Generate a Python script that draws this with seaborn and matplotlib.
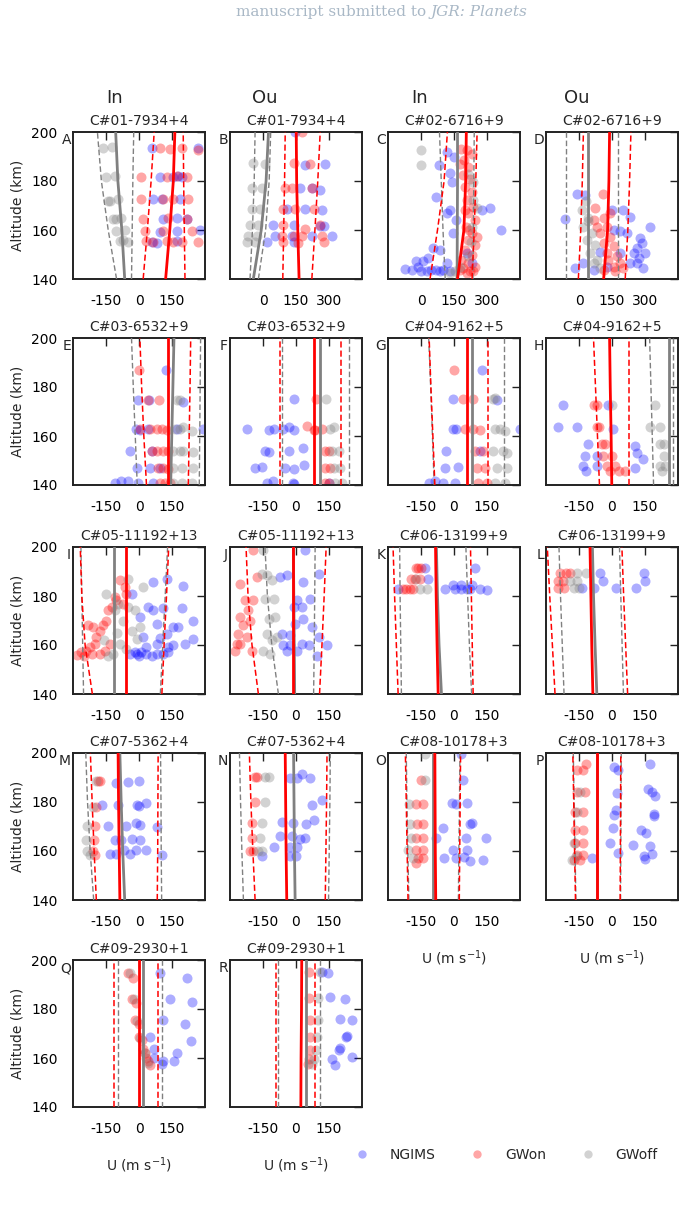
import numpy as np
import pandas as pd
import matplotlib
matplotlib.use("Agg")
import matplotlib.pyplot as plt
import seaborn as sns
from matplotlib.lines import Line2D

# ---------------- data ----------------
PANELS = list("ABCDEFGHIJKLMNOPQR")
TITLES = ["C#01-7934+4", "C#01-7934+4", "C#02-6716+9", "C#02-6716+9",
          "C#03-6532+9", "C#03-6532+9", "C#04-9162+5", "C#04-9162+5",
          "C#05-11192+13", "C#05-11192+13", "C#06-13199+9", "C#06-13199+9",
          "C#07-5362+4", "C#07-5362+4", "C#08-10178+3", "C#08-10178+3",
          "C#09-2930+1", "C#09-2930+1"]
HEADERS = ["In", "Ou", "In", "Ou"]
ALT_FIT = [140, 160, 180, 200]
SERIES = ["NGIMS", "GWon", "GWoff"]

# fitted profiles (u at ALT_FIT): GWon mean / lower / upper, GWoff mean / lower / upper
FIT = {
 "A": dict(on=[121,140,156,163], on_lo=[19,38,55,69], on_hi=[209,206,203,201],
           off=[-65,-78,-96,-106], off_lo=[-102,-140,-171,-189], off_hi=[-34,-31,-28,-24]),
 "B": dict(on=[164,158,153,151], on_lo=[90,94,98,101], on_hi=[222,236,249,260],
           off=[-44,-8,14,25], off_lo=[-59,-48,-40,-36], off_hi=[-21,12,28,35]),
 "C": dict(on=[166,195,203,206], on_lo=[41,75,105,120], on_hi=[232,242,249,255],
           off=[164,165,166,166], off_lo=[110,100,92,84], off_hi=[236,238,240,242]),
 "D": dict(on=[112,130,136,139], on_lo=[-3,8,15,20], on_hi=[210,222,230,236],
           off=[40,40,40,40], off_lo=[-60,-60,-60,-60], off_hi=[176,176,176,176]),
 "E": dict(on=[133,133,133,133], on_lo=[34,22,12,4], on_hi=[224,228,232,235],
           off=[144,149,154,159], off_lo=[-8,-17,-26,-34], off_hi=[274,276,278,280]),
 "F": dict(on=[80,80,80,80], on_lo=[-75,-75,-75,-75], on_hi=[204,204,204,204],
           off=[110,110,110,110], off_lo=[-65,-65,-65,-65], off_hi=[239,239,239,239]),
 "G": dict(on=[60,60,60,60], on_lo=[-87,-96,-105,-113], on_hi=[156,156,156,156],
           off=[80,80,80,80], off_lo=[-90,-98,-106,-115], off_hi=[227,227,227,227]),
 "H": dict(on=[-1,-4,-8,-11], on_lo=[-57,-66,-75,-84], on_hi=[75,75,75,75],
           off=[257,257,257,257], off_lo=[189,183,177,171], off_hi=[276,276,276,276]),
 "I": dict(on=[-59,-59,-59,-59], on_lo=[-212,-245,-260,-267], on_hi=[104,114,125,135],
           off=[-114,-114,-114,-114], off_lo=[-252,-256,-260,-264], off_hi=[97,108,119,130]),
 "J": dict(on=[-15,-15,-15,-15], on_lo=[-171,-200,-218,-227], on_hi=[107,118,128,137],
           off=[-6,-8,-10,-12], off_lo=[-80,-110,-130,-141], off_hi=[80,83,85,87]),
 "K": dict(on=[-72,-77,-81,-84], on_lo=[-254,-262,-270,-277], on_hi=[87,83,79,75],
           off=[-57,-68,-75,-80], off_lo=[-239,-242,-245,-247], off_hi=[80,70,62,54]),
 "L": dict(on=[-87,-92,-96,-100], on_lo=[-259,-271,-283,-294], on_hi=[71,62,53,45],
           off=[-69,-77,-84,-89], off_lo=[-218,-226,-234,-241], off_hi=[52,46,40,34]),
 "M": dict(on=[-87,-90,-93,-95], on_lo=[-194,-204,-213,-221], on_hi=[83,85,86,87],
           off=[-65,-74,-81,-87], off_lo=[-206,-222,-234,-242], off_hi=[103,101,100,98]),
 "N": dict(on=[-42,-45,-47,-49], on_lo=[-186,-196,-205,-212], on_hi=[133,136,139,141],
           off=[-4,-7,-9,-11], off_lo=[-239,-246,-252,-257], off_hi=[148,151,154,156]),
 "O": dict(on=[-83,-85,-86,-87], on_lo=[-209,-213,-217,-221], on_hi=[24,26,28,30],
           off=[-95,-95,-95,-95], off_lo=[-205,-210,-214,-217], off_hi=[20,22,25,27]),
 "P": dict(on=[-69,-69,-69,-69], on_lo=[-166,-170,-174,-178], on_hi=[37,38,39,40],
           off=[-70,-70,-70,-70], off_lo=[-164,-168,-172,-176], off_hi=[39,40,41,42]),
 "Q": dict(on=[-2,-2,-2,-2], on_lo=[-113,-113,-113,-113], on_hi=[85,85,85,85],
           off=[18,18,18,18], off_lo=[-97,-97,-97,-97], off_hi=[105,105,105,105]),
 "R": dict(on=[22,23,25,26], on_lo=[-93,-93,-93,-93], on_hi=[87,87,87,87],
           off=[46,46,46,46], off_lo=[-83,-83,-83,-83], off_hi=[107,107,107,107]),
}

# observations: (u [m/s], altitude [km])
NGIMS_A = [(57,193.5),(270,193.5),(95,181.5),(156,181.5),(178,182),(194,181.5),(65,172.5),(103,172.5),
           (186,172.5),(110,164.5),(171,165),(216,164.5),(95,159),(171,159.5),(277,160),(57,155),(80,154.5),(171,155.5)]
GWON_A = [(95,193.5),(140,193),(194,193.5),(270,192.5),(11,181.5),(125,181.5),(171,182),(216,181.5),
          (11,172.5),(110,172.5),(156,172.5),(224,172.5),(19,164.5),(133,165),(216,164.5),(27,159.5),
          (110,159.5),(239,159.5),(34,155.5),(65,155),(125,155.5),(156,155),(194,155),(270,155)]
GWOFF_A = [(-163,193.5),(-125,194),(-148,181.5),(-110,182),(-141,172),(-95,172.5),(-130,172),(-118,164.5),
           (-80,165),(-105,164.5),(-103,159.5),(-65,160),(-87,155.5),(-49,155),(-75,156)]

NGIMS_B = [(146,200),(192,186.5),(283,187),(169,177),(222,177),(260,176.5),(108,168.5),(192,168.5),(268,168),
           (47,162),(139,162),(260,161.5),(275,161.5),(55,157.5),(131,157.5),(222,157.5),(313,157.5),(17,155),(139,155)]
GWON_B = [(177,200),(139,187.5),(215,187),(101,177),(131,177),(222,177),(93,168.5),(146,168.5),(230,168.5),
          (93,162),(192,160.5),(260,162),(86,157.5),(139,157.5),(177,157.5),(268,157.5),(93,155),(161,154.5),(275,155)]
GWOFF_B = [(-44,187.5),(9,187),(-51,177),(-6,177),(-51,168.5),(-13,168.5),(-59,162),(-21,162),
           (-66,157.5),(-28,157.5),(-74,155),(-36,155)]

NGIMS_C = [(82,186.7),(139,179.7),(131,183.1),(70,173.6),(131,168.2),(116,166.8),(275,168.2),(313,168.8),
           (362,160),(161,164.1),(146,158.7),(-74,144.1),(-43,143.8),(-13,145.1),(9,147.2),(32,148.5),
           (55,152.6),(70,143.8),(85,143.1),(101,143.8),(116,146.5),(131,143.1),(2,143.1),(25,143.1),
           (47,143.8),(-21,147.2),(85,151.9),(207,150.6),(230,146.5),(120,192),(150,190)]
GWON_C = [(184,193.2),(207,192.6),(195,188.5),(214,185.8),(192,182.4),(222,181),(199,177.7),(230,175.6),
          (207,172.2),(237,169.5),(214,166.8),(245,164.1),(204,161.4),(234,158.7),(214,156),(245,154),
          (199,151.9),(230,149.9),(184,147.9),(214,146.5),(245,145.1),(192,144.5),(222,143.1),(176,143.8),
          (237,143.1),(207,142.4),(253,157.3),(230,191.2),(176,187.1),(220,160),(200,168)]
GWOFF_C = [(-1,192.8),(-1,186.5),(237,179.7),(253,168.8),(230,161.4),(214,149.2),(176,145.1),(154,143.1),
           (131,142.4),(237,172.2),(215,183),(225,155)]

NGIMS_D = [(-7,174.7),(-63,164.5),(28,174.3),(149,168.2),(202,168.2),(233,165.2),(321,161.4),(157,160),
           (187,159.4),(218,158.7),(278,156.7),(286,154.6),(263,152.6),(301,150.6),(248,150.6),(271,148.5),
           (233,146.5),(263,146.5),(293,144.5),(-18,144.5),(20,146.5),(66,143.8),(187,150.6),(127,145.1),(96,151.2)]
GWON_D = [(109,174.7),(74,168.8),(112,164.8),(81,161.4),(127,161.4),(96,158.7),(142,157.3),(112,154.6),
          (157,153.3),(127,150.6),(172,149.2),(134,147.9),(187,146.5),(157,145.1),(202,144.5),(164,143.1),
          (112,143.8),(142,166.8),(66,164.1)]
GWOFF_D = [(13,168.2),(43,164.8),(20,161.4),(58,158.7),(35,156),(74,154),(51,150.6),(81,147.9),
           (66,146.5),(96,144.5),(43,163.5),(30,172)]

NGIMS_E = [(121,187),(-4,174.5),(45,174.5),(198,174),(-14,163),(4,162.5),(42,163),(171,163),(292,163),
           (-42,154),(57,154),(-11,147),(49,147),(95,147),(-110,141),(-80,141.5),(-49,141.5),(-4,141),(65,141)]
GWON_E = [(1,187),(42,174.5),(92,174.5),(4,163),(49,163),(80,163),(103,163),(125,162.5),(57,154),(80,154),
          (110,154),(133,154),(87,147),(110,147),(133,146.5),(95,141),(118,141),(140,141)]
GWOFF_E = [(171,174.5),(186,174.5),(163,163),(186,163),(198,163.5),(239,162),(156,154),(186,154),(201,154),
           (244,153.5),(156,147),(194,147),(247,147),(156,141),(194,141),(239,141)]

NGIMS_F = [(-8,175),(-221,163),(-121,162.5),(-99,163),(-60,163),(-30,163.5),(-11,162.5),(-140,154),(-121,153.5),
           (-34,154),(31,155),(-186,147),(-156,147.5),(-49,147),(-11,146.5),(37,148),(-133,141),(-103,141.5),
           (-14,141),(-11,140.5),(148,141)]
GWON_F = [(92,175),(49,164),(80,162.5),(118,163),(87,162.5),(133,154),(148,154),(133,147),(156,147),(148,141),(130,141)]
GWOFF_F = [(137,175),(156,163),(171,163.5),(163,154),(194,154),(171,147),(201,147),(178,141),(209,141)]

NGIMS_G = [(125,187),(-4,175),(194,174.5),(-4,163),(8,163),(300,163),(-37,154),(118,154),(-42,147),(19,147.5),
           (-113,141),(-87,141.5),(-49,141),(4,141)]
GWON_G = [(-1,187),(42,175),(87,175),(49,163),(87,163),(118,162.5),(95,154),(133,154),(103,147),(140,147),
          (110,141),(148,141)]
GWOFF_G = [(178,175),(186,175.5),(186,163),(209,163),(232,162),(178,154),(224,154),(239,153),(194,147),
           (239,147),(186,141),(232,141)]

NGIMS_H = [(-221,172.5),(-20,172.5),(-247,163.8),(-157,163.8),(4,163),(-107,156.7),(106,156),(-122,151.9),
           (-69,151.9),(113,153),(140,150.5),(-130,147.9),(-69,147.9),(-118,145.8),(103,147)]
GWON_H = [(-81,172.5),(-69,172.5),(-69,163.8),(-57,163.8),(-46,156.7),(-31,156.7),(-39,151.9),(-1,151.9),
          (-24,147.9),(14,147.9),(-8,145.8),(30,145.8),(60,145.8)]
GWOFF_H = [(-1,172.5),(194,172.5),(171,163.8),(220,163.8),(220,156.7),(235,156.7),(235,151.9),(220,147.9),
           (242,147.9),(227,145.8)]

NGIMS_I = [(-30,181),(62,185.7),(201,184),(125,187),(42,175.5),(65,174.1),(110,174.9),(194,174.9),(80,168.6),
           (156,167.5),(178,167.3),(247,169.7),(4,171.4),(125,164.5),(209,160.5),(247,162.5),(34,159.1),
           (80,160.5),(156,159.8),(-42,156.4),(-11,156.4),(11,157),(34,156.4),(57,155.7),(80,156.4),
           (110,156.4),(133,157),(19,163.2),(133,159.1),(-20,157),(0,155.5),(95,163)]
GWON_I = [(-282,156.1),(-262,157),(-239,157.7),(-224,159.1),(-201,160.5),(-194,163.2),(-178,165.9),(-163,168),
          (-148,170),(-140,174.1),(-125,175.5),(-110,179.5),(-87,186.4),(-65,183.6),(-57,180.9),(-103,178.2),
          (-209,167.3),(-178,156.4),(-156,157.7),(-232,168),(-133,160.5),(-72,176.8),(-250,155.5),(-215,156.5)]
GWOFF_I = [(-148,180.9),(-95,176.8),(-49,175.5),(-19,174.1),(19,183.6),(-49,187),(-110,174.1),(-72,170),
           (-34,165.9),(-11,162.5),(-57,158.4),(-118,156.4),(-140,155.7),(-87,160.5),(4,167.3),(-100,165),
           (-160,162)]

NGIMS_J = [(-72,187.7),(-42,188.4),(42,198.6),(103,189.1),(34,185.7),(4,178.2),(65,178.9),(-11,175.5),
           (27,175.5),(34,170.7),(-4,168.6),(-65,164.5),(-27,163.9),(72,167.3),(103,163.2),(-57,159.8),
           (-27,159.8),(27,160.5),(57,159.8),(95,155.7),(141,159.8),(-42,157.7),(4,157.7)]
GWON_J = [(-277,157.7),(-254,160.5),(-224,163.2),(-262,164.5),(-239,168),(-209,170),(-254,171.4),(-217,174.1),
          (-194,178.2),(-232,178.2),(-254,185),(-179,187.7),(-194,198.6),(-270,160.5),(-201,157.7)]
GWOFF_J = [(-156,189.1),(-133,188.4),(-110,186.4),(-141,178.9),(-102,178.9),(-125,170.7),(-95,171.4),
           (-133,164.5),(-110,161.9),(-148,157.7),(-118,156.4),(-148,198.6),(-87,163.2)]

NGIMS_K = [(-133,191.5),(-118,187),(-254,183),(-42,183),(4,183),(34,183),(57,183),(72,183),(118,183),
           (148,182.5),(-4,184.5),(34,184.5),(80,184.5),(95,191.5)]
GWON_K = [(-174,191.5),(-163,191.5),(-148,191.5),(-194,187),(-178,187),(-156,187),(-232,183),(-216,183),
          (-201,183),(-186,183)]
GWOFF_K = [(-171,187),(-156,183),(-122,183)]

NGIMS_L = [(-54,189.4),(144,189.4),(-42,186.1),(151,186.1),(-137,183.2),(-81,183.2),(16,183.2),(107,183.2)]
GWON_L = [(-236,189.4),(-209,189.4),(-191,189.4),(-244,186.1),(-221,186.1),(-244,183.2),(-218,183.2)]
GWOFF_L = [(-160,189.4),(-118,189.4),(-191,186.1),(-157,186.1),(-175,183.2),(-148,183.2)]

NGIMS_M = [(-106,187.6),(-49,188.2),(1,188.6),(-166,178.8),(-95,178.8),(-11,178.8),(34,179.5),(1,178.2),
           (-140,170.3),(-60,170.3),(4,170.5),(80,170),(-14,171.3),(-110,164.3),(-84,164.3),(-30,165),(4,164.3),
           (-69,160.5),(-14,160.5),(31,160.5),(-133,158.8),(-103,158.8),(-39,158.8),(103,158.5)]
GWON_M = [(-186,188.6),(-178,188.6),(-194,178.1),(-201,170.3),(-206,164.6),(-209,159.9),(-201,158.5)]
GWOFF_M = [(-194,188.6),(-209,178.1),(-236,170.3),(-242,164.6),(-236,159.9),(-224,158.5)]

NGIMS_N = [(27,191.6),(-27,189.6),(4,189.6),(65,189.6),(118,180.7),(72,178.8),(-65,172),(-14,171.6),(46,171),
           (80,172.5),(-75,166),(-19,166),(19,165),(42,165.3),(-102,161.6),(-27,161.6),(4,161.5),(-156,158.1),
           (-27,158.1),(1,158.1)]
GWON_N = [(-186,190.3),(-178,190.3),(-186,180.1),(-201,171.6),(-201,165.3),(-209,159.9),(-194,159.9)]
GWOFF_N = [(-141,190.3),(-125,190.3),(-141,180.1),(-156,171.6),(-163,165.3),(-171,159.9),(-156,159.9)]

NGIMS_O = [(34,199.7),(42,188.9),(-7,179.4),(11,179),(61,179.4),(72,171),(80,171.3),(-52,169.5),(-83,165.3),
           (54,165.3),(145,165.3),(-4,160.5),(57,160.5),(-46,157.2),(11,157.2),(45,157.5),(72,155.9),(133,156.5)]
GWON_O = [(-148,188.9),(-171,179.1),(-140,179.1),(-168,170.9),(-140,170.9),(-171,165.3),(-140,165.3),
          (-174,160.5),(-140,160.5),(-163,157.2),(-140,157.2),(-171,155)]
GWOFF_O = [(-133,199.7),(-133,188.9),(-204,179.1),(-201,170.9),(-194,165.3),(-209,160.5),(-186,157.2)]

NGIMS_P = [(174,195.7),(10,194.1),(25,193.2),(162,185.5),(197,182.4),(22,183.8),(189,174.3),(16,176.8),(7,174.7),
           (4,169.3),(131,168.6),(154,167.3),(95,162.6),(-8,163.2),(171,161.9),(183,158.9),(147,157.8),(25,159.2),
           (-92,157.2),(151,156.8),(180,184),(189,175)]
GWON_P = [(-118,195.7),(-157,193.2),(-133,193.2),(-157,184.2),(-122,184.2),(-168,176.1),(-130,176.1),
          (-168,168.6),(-133,168.6),(-168,163.2),(-133,163.2),(-157,158.5),(-133,158.5),(-175,156.5),(-145,156.5)]
GWOFF_P = [(-145,184.2),(-157,176.1),(-175,163.2),(-183,156.5),(-165,158)]

NGIMS_Q = [(97,194.6),(217,192.6),(141,184.2),(240,182.7),(111,175.6),(211,173.9),(52,168.6),(237,167.1),
           (66,163.7),(171,162.1),(70,160),(157,158.8),(105,157.7),(107,158.7)]
GWON_Q = [(-48,194.6),(-28,192.6),(-34,184),(-14,182.4),(-18,175.6),(-2,174),(-2,168.6),(14,167.5),(18,163.7),
          (28,162.1),(32,160),(42,158.7),(52,157)]
GWOFF_Q = [(-40,194.5),(-25,184),(-10,175),(5,168),(25,162),(40,158)]

NGIMS_R = [(117,194.9),(145,194.6),(155,184.8),(221,184.2),(201,175.9),(256,175.4),(227,168.6),(231,169),
           (197,163.4),(201,164.1),(256,160.3),(165,159.4),(177,157.3)]
GWON_R = [(58,194.9),(58,184.4),(62,175.6),(62,168.6),(62,163.4),(58,159.6),(54,157.7)]
GWOFF_R = [(111,194.9),(101,184.4),(101,175.6),(97,168.6),(91,163.4),(81,159.6),(72,157.7)]

# ---------------- style ----------------
sns.set_style("white")
plt.rcParams["font.family"] = ["DejaVu Sans"]
plt.rcParams["font.size"] = 10
plt.rcParams["axes.unicode_minus"] = False

COLORS = {"NGIMS": "blue", "GWon": "red", "GWoff": "gray"}
ALPHAS = {"NGIMS": 0.32, "GWon": 0.35, "GWoff": 0.35}

W, H = 684, 1231
fig = plt.figure(figsize=(W / 100, H / 100), dpi=100)

COL_LEFT = [73, 230, 388, 546]
ROW_TOP = [132, 338, 547, 753, 960]
AX_W, AX_H = 132, 147

g = globals()
for i, p in enumerate(PANELS):
    r, c = divmod(i, 4)
    x0, y0 = COL_LEFT[c], ROW_TOP[r]
    ax = fig.add_axes([x0 / W, 1 - (y0 + AX_H) / H, AX_W / W, AX_H / H])

    rows = []
    for s in SERIES:
        for u, a in g[f"{s.upper()}_{p}"]:
            rows.append({"u": u, "alt": a, "src": s})
    df = pd.DataFrame(rows)
    for s in SERIES:
        d = df[df.src == s]
        sns.scatterplot(data=d, x="u", y="alt", color=COLORS[s], alpha=ALPHAS[s],
                        s=52, linewidth=0, ax=ax, legend=False, zorder=2)

    f = FIT[p]
    ax.plot(f["off_lo"], ALT_FIT, color="gray", lw=1.0, ls=(0, (4, 2)), zorder=3)
    ax.plot(f["off_hi"], ALT_FIT, color="gray", lw=1.0, ls=(0, (4, 2)), zorder=3)
    ax.plot(f["on_lo"], ALT_FIT, color="red", lw=1.1, ls=(0, (4, 2)), zorder=3)
    ax.plot(f["on_hi"], ALT_FIT, color="red", lw=1.1, ls=(0, (4, 2)), zorder=3)
    ax.plot(f["off"], ALT_FIT, color="gray", lw=2.0, zorder=4)
    ax.plot(f["on"], ALT_FIT, color="red", lw=2.0, zorder=5)

    if p in "BCD":
        ax.set_xlim(-150, 450)
        ax.set_xticks([0, 150, 300])
    else:
        ax.set_xlim(-300, 300)
        ax.set_xticks([-150, 0, 150])
    ax.set_ylim(140, 200)
    ax.set_yticks([140, 160, 180, 200])
    ax.tick_params(direction="in", length=6, width=1.0, top=True, right=True,
                   labelsize=10, pad=11, colors="#222222", labelcolor="black")
    for sp in ax.spines.values():
        sp.set_linewidth(1.4)
        sp.set_color("#222222")
    ax.set_title(TITLES[i], fontsize=10, pad=5)
    ax.text(-0.015, 0.99, p, transform=ax.transAxes, ha="right", va="top", fontsize=10)
    if c == 0:
        ax.set_ylabel("Altitude (km)", fontsize=10, labelpad=5)
    else:
        ax.set_ylabel("")
        ax.set_yticklabels([])
    if p in "OPQR":
        ax.set_xlabel(r"U (m s$^{-1}$)", fontsize=10, labelpad=14)
    else:
        ax.set_xlabel("")

for hx, htxt in zip([115, 265, 420, 577], HEADERS):
    fig.text(hx / W, 1 - 98 / H, htxt, ha="center", va="center", fontsize=13)

fig.text(426 / W, 1 - 12 / H, "manuscript submitted to", ha="right", va="center",
         fontsize=11, color="#a9b8c6", family="DejaVu Serif")
fig.text(431 / W, 1 - 12 / H, "JGR: Planets", ha="left", va="center",
         fontsize=11, color="#a9b8c6", family="DejaVu Serif", style="italic")

handles = [Line2D([], [], ls="", marker="o", markersize=6, markeredgewidth=0,
                  color=COLORS[s], alpha=ALPHAS[s]) for s in SERIES]
fig.legend(handles, SERIES, loc="center", bbox_to_anchor=(503 / W, 1 - 1155 / H), ncol=3,
           frameon=False, fontsize=10, columnspacing=2.0, handletextpad=1.0)

fig.savefig("out.png", dpi=100)
